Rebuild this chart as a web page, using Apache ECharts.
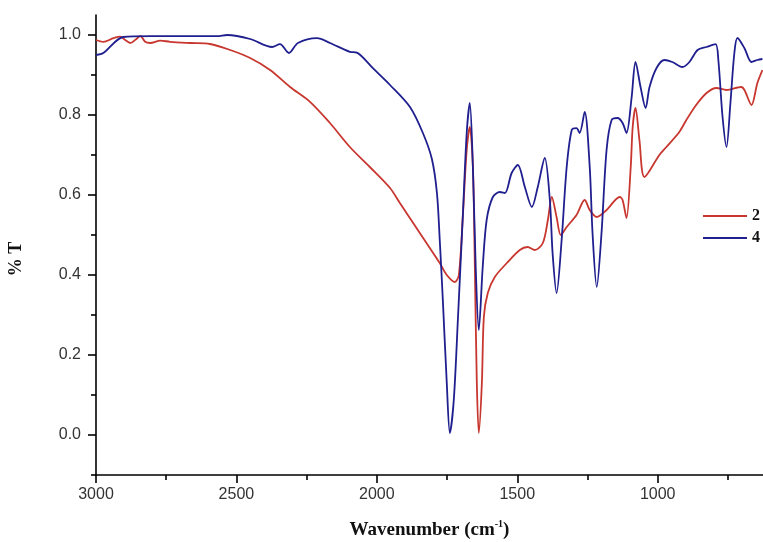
<!DOCTYPE html>
<html><head><meta charset="utf-8">
<script src="https://cdn.jsdelivr.net/npm/echarts@6/dist/echarts.min.js"></script>
<style>html,body{margin:0;padding:0;background:#fff}#c{width:763px;height:542px}</style>
</head><body><div id="c"></div>
<script>
// Series "2" (red)
const wn2 = [3000,2974,2938,2914,2896,2878,2853,2842,2825,2807,2771,2736,2665,2594,2522,2451,2380,2309,2238,2167,2096,2025,1953,1918,1847,1776,1751,1722,1708,1694,1680,1669,1658,1651,1644,1637,1626,1619,1605,1580,1537,1491,1463,1438,1409,1391,1377,1360,1345,1324,1289,1260,1242,1217,1182,1135,1125,1111,1096,1089,1079,1065,1047,994,969,923,898,863,826,791,755,702,691,666,645,627];
const t2 = [0.9875,0.983,0.992,0.996,0.9875,0.98,0.992,0.998,0.983,0.98,0.986,0.983,0.98,0.9775,0.9625,0.9425,0.9125,0.87,0.833,0.78,0.72,0.67,0.6175,0.58,0.505,0.43,0.40,0.3825,0.40,0.545,0.7125,0.77,0.67,0.42,0.13,0.005,0.13,0.295,0.355,0.395,0.43,0.4625,0.47,0.4625,0.48,0.5375,0.595,0.545,0.5,0.52,0.55,0.5875,0.5625,0.545,0.5625,0.595,0.5875,0.5425,0.67,0.77,0.8175,0.7375,0.645,0.70,0.72,0.7575,0.7875,0.825,0.855,0.8675,0.8625,0.87,0.8625,0.825,0.88,0.9125];
// Series "4" (blue)
const wn4 = [3000,2974,2903,2807,2665,2569,2533,2451,2373,2345,2313,2281,2213,2167,2096,2071,2014,1953,1882,1836,1804,1786,1776,1765,1751,1740,1726,1711,1694,1680,1669,1658,1648,1637,1623,1609,1587,1562,1544,1520,1498,1473,1448,1427,1402,1384,1374,1360,1342,1324,1306,1289,1278,1260,1242,1232,1217,1200,1182,1164,1143,1125,1111,1093,1079,1061,1043,1029,1004,976,948,912,887,858,826,794,784,769,755,741,727,716,691,666,645,627];
const t4 = [0.95,0.955,0.995,0.997,0.997,0.997,1.0,0.99,0.97,0.977,0.955,0.98,0.992,0.98,0.958,0.956,0.917,0.875,0.82,0.755,0.69,0.605,0.4875,0.3375,0.13,0.005,0.0875,0.295,0.545,0.755,0.83,0.67,0.42,0.2625,0.42,0.5375,0.595,0.6075,0.605,0.655,0.675,0.62,0.57,0.62,0.6925,0.5875,0.4525,0.355,0.4875,0.67,0.7625,0.767,0.755,0.8075,0.67,0.505,0.37,0.505,0.7125,0.7875,0.7925,0.78,0.755,0.8425,0.9325,0.87,0.8175,0.87,0.9175,0.9375,0.9325,0.92,0.9325,0.9625,0.97,0.977,0.9375,0.795,0.72,0.83,0.955,0.9925,0.967,0.9325,0.9375,0.94];

const seriesNames = ['2', '4'];
const xMajor = [3000, 2500, 2000, 1500, 1000];
const xMinor = [2750, 2250, 1750, 1250, 750];
const yMajor = [0, 0.2, 0.4, 0.6, 0.8, 1.0];
const yMinor = [-0.1, 0.1, 0.3, 0.5, 0.7, 0.9];

const zip = (a, b) => a.map((v, i) => [v, b[i]]);
const axisLineStyle = { color: '#000', width: 1.6 };
const labelFont = { fontFamily: 'Liberation Sans, Arial', fontSize: 16, color: '#333' };
const serif = 'Liberation Serif, Times New Roman';

const chart = echarts.init(document.getElementById('c'), null, { renderer: 'canvas' });
chart.setOption({
  backgroundColor: '#fff',
  animation: false,
  grid: { left: 96, right: 0, top: 15, bottom: 67, containLabel: false, outerBoundsMode: 'none' },
  legend: {
    orient: 'vertical', left: 698, top: 203, itemGap: 6,
    icon: 'rect', itemWidth: 44, itemHeight: 2,
    textStyle: { fontFamily: serif, fontWeight: 'bold', fontSize: 16, color: '#111' },
    data: seriesNames
  },
  graphic: [{
    type: 'text', x: 16, y: 259, rotation: Math.PI / 2,
    style: { text: '% T', fontFamily: serif, fontWeight: 'bold', fontSize: 18, fill: '#111', align: 'center', verticalAlign: 'middle' }
  }],
  xAxis: [{
    type: 'value', min: 625, max: 3000, inverse: true,
    splitLine: { show: false },
    axisLine: { show: true, onZero: false, lineStyle: axisLineStyle },
    axisTick: { show: true, inside: false, length: 8, lineStyle: axisLineStyle, customValues: xMajor },
    axisLabel: { show: true, margin: 12, customValues: xMajor, formatter: v => String(v), ...labelFont },
    name: '{a|Wavenumber (cm}{s|-1}{a|)}',
    nameLocation: 'middle', nameGap: 44,
    nameTextStyle: {
      rich: {
        a: { fontFamily: serif, fontWeight: 'bold', fontSize: 19, color: '#111', lineHeight: 22 },
        s: { fontFamily: serif, fontWeight: 'bold', fontSize: 10, color: '#111', verticalAlign: 'top', lineHeight: 22, padding: [0, 0, 10, 0] }
      }
    }
  }, {
    type: 'value', min: 625, max: 3000, inverse: true, position: 'bottom',
    splitLine: { show: false },
    axisLine: { show: false, onZero: false },
    axisTick: { show: true, inside: false, length: 5, lineStyle: axisLineStyle, customValues: xMinor },
    axisLabel: { show: false }
  }],
  yAxis: [{
    type: 'value', min: -0.1, max: 1.05,
    splitLine: { show: false },
    axisLine: { show: true, onZero: false, lineStyle: axisLineStyle },
    axisTick: { show: true, inside: false, length: 8, lineStyle: axisLineStyle, customValues: yMajor },
    axisLabel: { show: true, margin: 15, customValues: yMajor, formatter: v => v.toFixed(1), ...labelFont }
  }, {
    type: 'value', min: -0.1, max: 1.05, position: 'left',
    splitLine: { show: false },
    axisLine: { show: false, onZero: false },
    axisTick: { show: true, inside: false, length: 5, lineStyle: axisLineStyle, customValues: yMinor },
    axisLabel: { show: false }
  }],
  series: [{
    name: seriesNames[0], type: 'line', data: zip(wn2, t2),
    xAxisIndex: 0, yAxisIndex: 0,
    showSymbol: false, smooth: 0.3,
    lineStyle: { color: '#c8372f', width: 1.8 }, itemStyle: { color: '#c8372f' }
  }, {
    name: seriesNames[1], type: 'line', data: zip(wn4, t4),
    xAxisIndex: 0, yAxisIndex: 0,
    showSymbol: false, smooth: 0.3,
    lineStyle: { color: '#1f1f8f', width: 1.8 }, itemStyle: { color: '#1f1f8f' }
  }]
});
</script></body></html>
